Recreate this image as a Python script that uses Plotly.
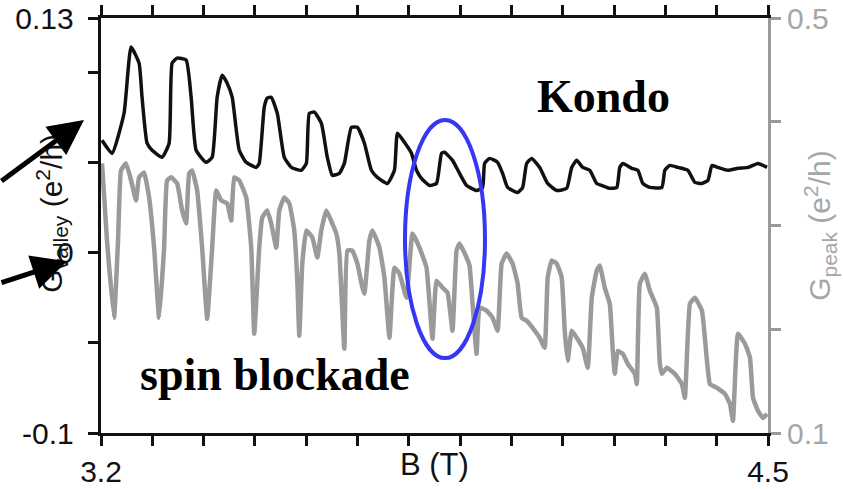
import plotly.graph_objects as go

# Valley conductance (left axis, black)
b_valley = [3.2020, 3.2215, 3.2449, 3.2586, 3.2742, 3.2800, 3.2898, 3.2996, 3.3191, 3.3327,
            3.3386, 3.3484, 3.3659, 3.3757, 3.3854, 3.4050, 3.4167, 3.4264, 3.4362, 3.4459,
            3.4557, 3.4694, 3.4830, 3.5026, 3.5084, 3.5182, 3.5240, 3.5318, 3.5436, 3.5572,
            3.5709, 3.5904, 3.6002, 3.6060, 3.6158, 3.6294, 3.6411, 3.6509, 3.6646, 3.6743,
            3.6880, 3.6997, 3.7134, 3.7270, 3.7387, 3.7583, 3.7719, 3.7778, 3.7914, 3.8051,
            3.8149, 3.8246, 3.8402, 3.8539, 3.8637, 3.8695, 3.8851, 3.8988, 3.9125, 3.9320,
            3.9437, 3.9476, 3.9574, 3.9730, 3.9827, 3.9925, 4.0120, 4.0218, 4.0296, 4.0393,
            4.0550, 4.0706, 4.0882, 4.1077, 4.1174, 4.1272, 4.1389, 4.1526, 4.1662, 4.1760,
            4.1916, 4.2053, 4.2111, 4.2170, 4.2346, 4.2463, 4.2560, 4.2697, 4.2931, 4.2990,
            4.3087, 4.3243, 4.3439, 4.3575, 4.3712, 4.3829, 4.3907, 4.4024, 4.4219, 4.4415,
            4.4610, 4.4805, 4.4981]
g_valley = [0.0622, 0.0550, 0.0772, 0.1139, 0.1050, 0.0861, 0.0606, 0.0567, 0.0528, 0.0606,
            0.1050, 0.1078, 0.1067, 0.0861, 0.0567, 0.0500, 0.0528, 0.0861, 0.0983, 0.0939,
            0.0861, 0.0567, 0.0500, 0.0472, 0.0494, 0.0806, 0.0856, 0.0861, 0.0772, 0.0528,
            0.0472, 0.0456, 0.0494, 0.0772, 0.0778, 0.0717, 0.0528, 0.0428, 0.0439, 0.0494,
            0.0694, 0.0694, 0.0606, 0.0456, 0.0417, 0.0383, 0.0456, 0.0661, 0.0611, 0.0550,
            0.0456, 0.0411, 0.0372, 0.0383, 0.0550, 0.0556, 0.0511, 0.0439, 0.0372, 0.0344,
            0.0361, 0.0494, 0.0522, 0.0500, 0.0439, 0.0361, 0.0333, 0.0361, 0.0494, 0.0522,
            0.0472, 0.0383, 0.0344, 0.0356, 0.0472, 0.0511, 0.0472, 0.0456, 0.0383, 0.0372,
            0.0356, 0.0361, 0.0472, 0.0494, 0.0467, 0.0456, 0.0383, 0.0361, 0.0361, 0.0456,
            0.0483, 0.0472, 0.0456, 0.0389, 0.0383, 0.0400, 0.0483, 0.0472, 0.0456, 0.0467,
            0.0472, 0.0494, 0.0472]

# Peak conductance (right axis, grey)
b_peak = [3.2020, 3.2117, 3.2254, 3.2332, 3.2390, 3.2488, 3.2586, 3.2683, 3.2742, 3.2839,
          3.2937, 3.3035, 3.3132, 3.3230, 3.3288, 3.3366, 3.3484, 3.3581, 3.3659, 3.3718,
          3.3776, 3.3874, 3.3971, 3.4069, 3.4167, 3.4245, 3.4342, 3.4459, 3.4538, 3.4596,
          3.4694, 3.4830, 3.4928, 3.4987, 3.5084, 3.5143, 3.5240, 3.5318, 3.5416, 3.5475,
          3.5572, 3.5670, 3.5767, 3.5826, 3.5865, 3.5923, 3.6002, 3.6119, 3.6216, 3.6294,
          3.6392, 3.6509, 3.6587, 3.6646, 3.6743, 3.6802, 3.6899, 3.6997, 3.7095, 3.7134,
          3.7231, 3.7290, 3.7427, 3.7524, 3.7622, 3.7719, 3.7817, 3.7954, 3.8071, 3.8207,
          3.8344, 3.8461, 3.8539, 3.8656, 3.8754, 3.8851, 3.8930, 3.8988, 3.9125, 3.9183,
          3.9242, 3.9320, 3.9379, 3.9515, 3.9632, 3.9730, 3.9808, 3.9906, 4.0023, 4.0120,
          4.0198, 4.0296, 4.0413, 4.0550, 4.0647, 4.0706, 4.0784, 4.0882, 4.0979, 4.1038,
          4.1096, 4.1174, 4.1272, 4.1389, 4.1487, 4.1565, 4.1662, 4.1721, 4.1818, 4.1916,
          4.1975, 4.2014, 4.2072, 4.2170, 4.2267, 4.2404, 4.2443, 4.2502, 4.2599, 4.2697,
          4.2833, 4.2892, 4.2931, 4.3029, 4.3185, 4.3321, 4.3380, 4.3478, 4.3575, 4.3712,
          4.3810, 4.3868, 4.4005, 4.4161, 4.4259, 4.4317, 4.4415, 4.4552, 4.4649, 4.4708,
          4.4805, 4.4903, 4.4981]
g_peak = [0.3599, 0.2855, 0.2111, 0.2855, 0.3531, 0.3599, 0.3435, 0.3242, 0.3464, 0.3512,
          0.3271, 0.2787, 0.2111, 0.2787, 0.3435, 0.3464, 0.3406, 0.3145, 0.3019, 0.3502,
          0.3531, 0.3338, 0.2787, 0.2101, 0.2787, 0.3338, 0.3242, 0.3213, 0.3048, 0.3464,
          0.3435, 0.3271, 0.2787, 0.1957, 0.2787, 0.3077, 0.3145, 0.3019, 0.2787, 0.3145,
          0.3271, 0.3213, 0.2952, 0.2469, 0.1937, 0.2633, 0.2952, 0.2884, 0.2691, 0.2952,
          0.3145, 0.3019, 0.2923, 0.2729, 0.1812, 0.2758, 0.2758, 0.2633, 0.2401, 0.2343,
          0.2855, 0.2952, 0.2787, 0.2498, 0.1918, 0.2594, 0.2536, 0.2304, 0.2923, 0.2787,
          0.2594, 0.1908, 0.2469, 0.2401, 0.2353, 0.1986, 0.2758, 0.2826, 0.2691, 0.2614,
          0.2246, 0.1763, 0.2208, 0.2179, 0.2111, 0.1986, 0.2633, 0.2729, 0.2633, 0.2440,
          0.2111, 0.2082, 0.2014, 0.1918, 0.1821, 0.2498, 0.2662, 0.2633, 0.2498, 0.1986,
          0.1696, 0.1986, 0.1918, 0.1821, 0.1628, 0.2304, 0.2565, 0.2614, 0.2401, 0.2246,
          0.1792, 0.1570, 0.1792, 0.1763, 0.1667, 0.1570, 0.1473, 0.2440, 0.2536, 0.2372,
          0.2208, 0.1667, 0.1570, 0.1628, 0.1570, 0.1473, 0.1338, 0.2246, 0.2304, 0.2179,
          0.1696, 0.1473, 0.1435, 0.1377, 0.1280, 0.1116, 0.1957, 0.1860, 0.1725, 0.1338,
          0.1213, 0.1145, 0.1184]

# Axis ticks
x_ticks = [3.2, 3.3, 3.4, 3.5, 3.6, 3.7, 3.8, 3.9, 4.0, 4.1, 4.2, 4.3, 4.4, 4.5]
x_labels = ["3.2"] + [""] * 12 + ["4.5"]
yl_ticks = [-0.1, -0.05, 0, 0.05, 0.1, 0.13]
yl_labels = ["-0.1\u00a0", "", "0\u00a0", "", "", "0.13\u00a0"]
yr_ticks = [0.1, 0.2, 0.3, 0.4, 0.5]
yr_labels = ["0.1", "", "", "", "0.5"]

BLACK = "#111111"
GREY = "#9a9a9a"
GREY_TXT = "#a6a6a6"
SANS = "Liberation Sans, Arial, sans-serif"
SERIF = "Liberation Serif, Times New Roman, serif"
TICK_SIZE = 30

fig = go.Figure()
fig.add_trace(go.Scatter(x=b_peak, y=g_peak, yaxis="y2", mode="lines",
                         line=dict(color=GREY, width=4.5, shape="spline", smoothing=0.35),
                         showlegend=False))
fig.add_trace(go.Scatter(x=b_valley, y=g_valley, mode="lines",
                         line=dict(color=BLACK, width=3.5, shape="spline", smoothing=0.45),
                         showlegend=False))

fig.update_layout(
    template="none",
    width=843, height=489,
    margin=dict(l=101, r=75, t=18, b=56, pad=0),
    paper_bgcolor="white", plot_bgcolor="white",
    font=dict(family=SANS, size=TICK_SIZE, color=BLACK),
    xaxis=dict(range=[3.2, 4.5], tickvals=x_ticks, ticktext=x_labels, automargin=False,
               showgrid=False, zeroline=False, showline=True, linecolor=BLACK, linewidth=3,
               ticks="outside", ticklen=10, tickwidth=3, tickcolor=BLACK,
               mirror="allticks", tickfont=dict(size=TICK_SIZE, color=BLACK)),
    yaxis=dict(range=[-0.1, 0.13], tickvals=yl_ticks, ticktext=yl_labels, automargin=False,
               showgrid=False, zeroline=False, showline=True, linecolor=BLACK, linewidth=3,
               ticks="outside", ticklen=10, tickwidth=3, tickcolor=BLACK,
               tickfont=dict(size=TICK_SIZE, color=BLACK)),
    yaxis2=dict(range=[0.1, 0.5], tickvals=yr_ticks, ticktext=yr_labels, automargin=False,
                overlaying="y", side="right",
                showgrid=False, zeroline=False, showline=True, linecolor=GREY, linewidth=3,
                ticks="outside", ticklen=10, tickwidth=3, tickcolor=GREY,
                tickfont=dict(size=TICK_SIZE, color=GREY_TXT)),
)

# Highlighted pair of peaks
fig.add_shape(type="circle", xref="x", yref="y",
              x0=3.7925, x1=3.9484, y0=-0.0585, y1=0.0735,
              line=dict(color="#3636f5", width=4), layer="above")

annotations = [
    dict(text="B (T)", xref="paper", yref="paper", x=0.5, y=-0.077,
         xanchor="center", yanchor="middle", showarrow=False,
         font=dict(family=SANS, size=31, color=BLACK)),
    dict(text="G<sub>valley</sub> (e<sup>2</sup>/h)", xref="paper", yref="paper",
         x=-0.074, y=0.53, xanchor="center", yanchor="middle", textangle=-90,
         showarrow=False, font=dict(family=SANS, size=30, color=BLACK)),
    dict(text="G<sub>peak</sub> (e<sup>2</sup>/h)", xref="paper", yref="paper",
         x=1.077, y=0.50, xanchor="center", yanchor="middle", textangle=-90,
         showarrow=False, font=dict(family=SANS, size=30, color=GREY_TXT)),
    dict(text="<b>Kondo</b>", xref="paper", yref="paper", x=0.754, y=0.81,
         xanchor="center", yanchor="middle", showarrow=False,
         font=dict(family=SERIF, size=46, color="black")),
    dict(text="<b>spin blockade</b>", xref="paper", yref="paper", x=0.261, y=0.142,
         xanchor="center", yanchor="middle", showarrow=False,
         font=dict(family=SERIF, size=46, color="black")),
    # arrows pointing at the axis
    dict(text="", xref="paper", yref="paper", x=-0.0255, y=0.754,
         ax=-92, ay=62, showarrow=True, arrowhead=2, arrowsize=1.4,
         arrowwidth=5, arrowcolor="black"),
    dict(text="", xref="paper", yref="paper", x=-0.051, y=0.414,
         ax=-74, ay=22, showarrow=True, arrowhead=2, arrowsize=1.4,
         arrowwidth=5, arrowcolor="black"),
]
fig.update_layout(annotations=annotations)

fig.write_html("out.html")
